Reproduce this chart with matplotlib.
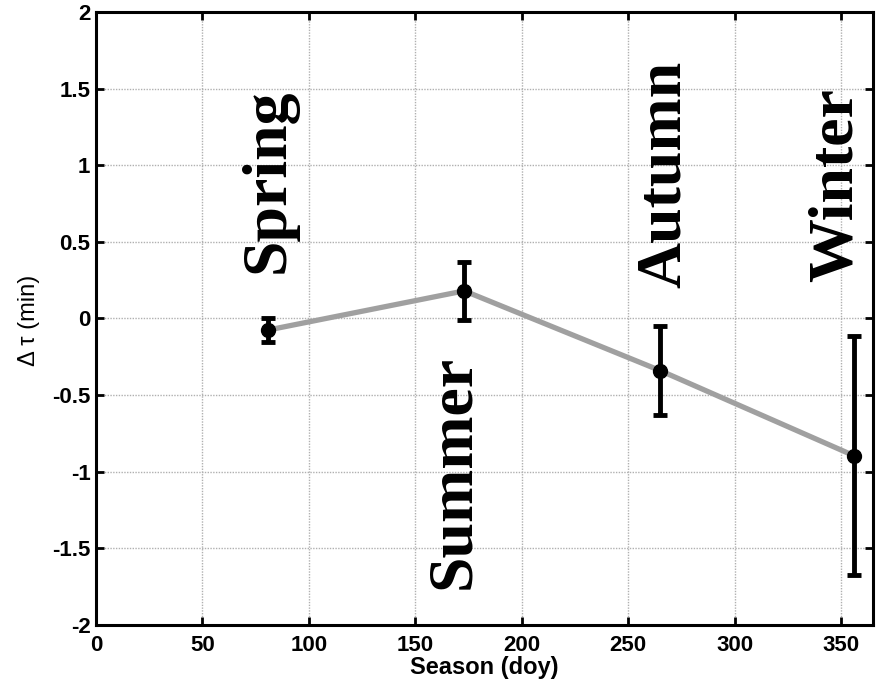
import matplotlib
matplotlib.use("Agg")
import matplotlib.pyplot as plt

doy = [81, 173, 265, 356]
dtau = [-0.075, 0.18, -0.34, -0.895]
err = [0.08, 0.19, 0.29, 0.78]
seasons = ["Spring", "Summer", "Autumn", "Winter"]
label_x = [81, 168, 267, 348]
label_y = [0.9, -1.0, 0.94, 0.87]

fig = plt.figure(figsize=(8.83, 6.85), dpi=100)
ax = fig.add_axes([0.1087, 0.0876, 0.88, 0.895])

ax.plot(doy, dtau, color="#a0a0a0", lw=3.8, zorder=2)
ax.errorbar(doy, dtau, yerr=err, fmt="o", color="black", ms=10, lw=3.5,
            capsize=5, capthick=3.5, zorder=3)

for s, x, y in zip(seasons, label_x, label_y):
    ax.text(x, y, s, rotation=90, ha="center", va="center",
            family="Liberation Serif", fontweight="bold", fontsize=46)

ax.set_xlim(0, 365)
ax.set_ylim(-2, 2)
ax.set_xticks(range(0, 351, 50))
ax.set_yticks([-2, -1.5, -1, -0.5, 0, 0.5, 1, 1.5, 2])
ax.set_yticklabels(["-2", "-1.5", "-1", "-0.5", "0", "0.5", "1", "1.5", "2"])
ax.grid(True, color="#b0b0b0", linestyle=(0, (1, 1)), lw=1)
ax.tick_params(direction="in", length=6, width=2, top=True, right=True,
               labelsize=16)
ax.tick_params(axis="x", pad=7)
ax.tick_params(axis="y", pad=4)
for lab in ax.get_xticklabels() + ax.get_yticklabels():
    lab.set_fontweight("bold")
    lab.set_family("Liberation Sans")
for sp in ax.spines.values():
    sp.set_linewidth(2.2)

ax.set_xlabel("Season (doy)", fontsize=17, fontweight="bold", family="Liberation Sans", labelpad=0)
ax.set_ylabel("Δ τ (min)", fontsize=17, fontweight="normal", family="Liberation Sans")
ax.yaxis.set_label_coords(-0.072, 0.497)

fig.savefig("out.png", dpi=100)
